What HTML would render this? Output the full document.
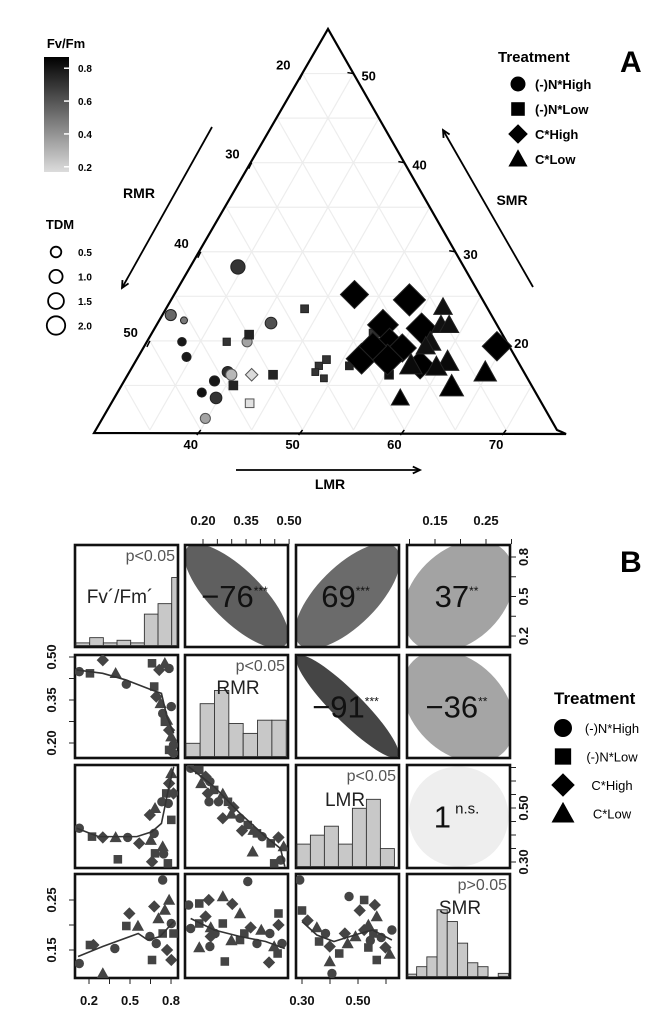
<!DOCTYPE html>
<html><head><meta charset="utf-8">
<style>
html,body{margin:0;padding:0;background:#fff;}
svg{display:block;font-family:"Liberation Sans",Arial,sans-serif;}
</style></head>
<body>
<svg id="fig" width="668" height="1011" viewBox="0 0 668 1011" xmlns="http://www.w3.org/2000/svg">
<defs>
<linearGradient id="fvgrad" x1="0" y1="0" x2="0" y2="1">
<stop offset="0" stop-color="#000"/><stop offset="1" stop-color="#dcdcdc"/>
</linearGradient>
</defs>
<g id="panelA"></g>
<g id="panelB"></g>
</svg>
<script>
// ===== Panel A data (ternary) =====
const ternTreat = ["NH","NH","NH","NH","NH","NH","NH","NH","NH","NH","NH","NH","NH",
 "NL","NL","NL","NL","NL","NL","NL","NL","NL","NL","NL","NL","NL",
 "CH","CH","CH","CH","CH","CH","CH","CH","CH","CH","CH","CH",
 "CL","CL","CL","CL","CL","CL","CL","CL","CL","CL","CL"];
const ternLMR = [34.5,30.6,32.2,33.2,34.5,40.9,39.4,38.6,38.0,39.7,39.8,39.6,39.9,
 43.4,39.4,37.6,44.0,40.7,43.3,48.4,48.0,48.0,49.2,51.0,51.6,55.4,
 41.9,47.5,53.2,52.0,56.0,53.7,51.8,55.2,57.9,64.4,54.4,52.2,
 56.9,57.7,58.5,57.6,57.4,60.4,59.6,57.0,64.7,62.2,57.8];
const ternSMR = [28.3,22.9,22.3,19.9,18.2,22.0,16.5,15.5,14.2,13.6,11.3,19.9,16.2,
 23.6,20.7,19.9,16.2,15.0,13.0,17.9,17.2,16.5,15.8,17.2,20.8,16.2,
 16.2,25.2,24.6,21.8,21.4,19.7,18.0,19.2,17.3,19.4,17.9,19.4,
 23.8,21.8,21.8,19.9,19.4,17.7,17.1,17.3,16.5,14.9,13.6];
const ternFv = [0.7,0.55,0.5,0.78,0.78,0.62,0.72,0.78,0.8,0.7,0.38,0.38,0.32,
 0.7,0.75,0.7,0.75,0.75,0.2,0.7,0.7,0.7,0.7,0.75,0.7,0.8,
 0.22,0.85,0.85,0.85,0.85,0.85,0.85,0.85,0.85,0.85,0.85,0.85,
 0.8,0.8,0.8,0.8,0.8,0.82,0.82,0.82,0.85,0.85,0.85];
const ternTDM = [1.4,0.8,0,0.3,0.4,0.9,0.8,0.6,0.4,0.9,0.6,0.6,0.8,
 0.3,0.5,0.2,0.5,0.5,0.5,0.3,0.2,0.1,0.1,0.3,0.6,0.5,
 0.5,2.8,3.4,3.2,3.2,3.2,3.2,2.8,2.8,3.0,3.2,2.7,
 1.5,1.6,1.6,1.9,1.6,2.1,1.9,2.1,2.1,2.3,1.4];
const lmrTicks = [40,50,60,70];
const rmrTicks = [20,30,40,50];
const smrTicks = [20,30,40,50];
const fvLegend = [0.8,0.6,0.4,0.2];
const tdmLegend = [0.5,1.0,1.5,2.0];
const treatLabels = ["(-)N*High","(-)N*Low","C*High","C*Low"];
const treatCodes = ["NH","NL","CH","CL"];

// ===== Panel B data =====
const corrVals = [-76,69,37,-91,-36,1];
const corrSig = ["***","***","**","***","**","n.s."];
const corrCells = [[0,1],[0,2],[0,3],[1,2],[1,3],[2,3]];
const histFvCounts = [1,3,1,2,1,12,16,26];
const histRmrCounts = [2,8,10,5,3.5,5.5,5.5];
const histLmrCounts = [5,7,9,5,13,15,4];
const histSmrCounts = [0.6,2.5,5,17,14,8.5,3.5,2.5,0,0.8];
const histPvals = ["p<0.05","p<0.05","p<0.05","p>0.05"];
const varNames = ["Fv\u00b4/Fm\u00b4","RMR","LMR","SMR"];
// scatter: Fv vs RMR
const s21x=[.129,.207,.301,.395,.473,.661,.714,.755,.786,.677,.692,.724,.739,.755,.786,.802,.818,.786,.818,.771,.802];
const s21y=[.449,.443,.489,.443,.405,.478,.455,.478,.460,.397,.362,.338,.303,.274,.245,.222,.193,.176,.164,.280,.327];
const l21x=[.11,.30,.47,.66,.73,.77,.82]; const l21y=[.455,.443,.420,.385,.373,.292,.234];
// Fv vs LMR
const s31x=[.129,.222,.301,.395,.483,.411,.567,.652,.677,.683,.661,.739,.746,.777,.645,.683,.733,.765,.786,.802,.780,.802,.818];
const s31y=[.425,.394,.391,.391,.391,.310,.369,.381,.406,.332,.301,.357,.330,.295,.474,.499,.523,.554,.591,.628,.517,.456,.554];
const l31x=[.11,.27,.55,.66,.73,.78,.82]; const l31y=[.425,.394,.394,.412,.443,.567,.653];
// Fv vs SMR
const s41x=[.129,.207,.232,.301,.389,.473,.495,.558,.645,.661,.677,.708,.739,.739,.771,.786,.802,.818,.802,.755,.692];
const s41y=[.123,.160,.160,.103,.153,.198,.223,.198,.177,.130,.237,.213,.290,.183,.150,.250,.203,.183,.130,.230,.163];
const l41x=[.12,.30,.56,.63,.72,.82]; const l41y=[.137,.157,.183,.170,.177,.207];
// RMR vs LMR
const s32x=[.157,.187,.209,.194,.224,.239,.217,.269,.254,.287,.306,.299,.329,.356,.336,.376,.406,.436,.463,.481,.471,.448,.269,.373,.221,.388];
const s32y=[.647,.641,.616,.591,.598,.567,.554,.552,.523,.523,.502,.478,.462,.437,.416,.418,.394,.369,.391,.357,.307,.295,.462,.338,.523,.406];
const l32x=[.15,.239,.329,.418,.47,.485]; const l32y=[.653,.579,.48,.394,.35,.283];
// RMR vs SMR
const s42x=[.150,.187,.220,.269,.157,.187,.209,.227,.242,.269,.302,.329,.356,.344,.366,.403,.433,.463,.463,.448,.475,.460,.430,.187,.224,.276,.227,.299,.388,.329];
const s42y=[.240,.243,.250,.257,.193,.203,.217,.195,.183,.203,.242,.223,.287,.183,.195,.190,.183,.223,.200,.157,.163,.143,.125,.155,.157,.127,.177,.169,.163,.170];
const l42x=[.157,.239,.329,.418,.485]; const l42y=[.213,.19,.177,.167,.153];
// LMR vs SMR
const s43x=[.292,.300,.320,.353,.384,.361,.399,.399,.407,.433,.453,.463,.468,.522,.522,.537,.544,.555,.560,.567,.583,.567,.598,.613,.621,.537,.506,.491];
const s43y=[.290,.229,.209,.195,.183,.167,.157,.127,.103,.143,.183,.163,.257,.250,.190,.200,.169,.183,.240,.217,.175,.130,.155,.142,.190,.155,.229,.177];
const l43x=[.30,.353,.414,.506,.552,.621]; const l43y=[.207,.18,.167,.183,.19,.17];
const shapeCycle = ["c","s","d","t"];

const NS="http://www.w3.org/2000/svg";
function mk(tag, attrs, parent){const e=document.createElementNS(NS,tag);for(const k in attrs)e.setAttribute(k,attrs[k]);parent.appendChild(e);return e;}
function txt(str, attrs, parent){const e=mk("text",attrs,parent);e.textContent=str;return e;}

// ===== Panel A =====
const A=document.getElementById("panelA");
const cR=[557,430], cT=[328,29], cL=[99,430];
function tern(L,S){const a=(L-30)/45,b=(S-10)/45,c=1-a-b;return [a*cR[0]+b*cT[0]+c*cL[0], a*cR[1]+b*cT[1]+c*cL[1]];}
function bary(a,b,c){return [a*cR[0]+b*cT[0]+c*cL[0], a*cR[1]+b*cT[1]+c*cL[1]];}
const grid=mk("g",{stroke:"#ededed","stroke-width":"1.2"},A);


for(let k=1;k<9;k++){const f=k/9;
 let p=bary(0,f,1-f),q=bary(1-f,f,0);mk("line",{x1:p[0],y1:p[1],x2:q[0],y2:q[1]},grid);
 p=bary(f,0,1-f);q=bary(f,1-f,0);mk("line",{x1:p[0],y1:p[1],x2:q[0],y2:q[1]},grid);
 p=bary(0,1-f,f);q=bary(1-f,0,f);mk("line",{x1:p[0],y1:p[1],x2:q[0],y2:q[1]},grid);}
const tri=mk("path",{d:`M94,433 L${cT[0]},${cT[1]} L${cR[0]},${cR[1]} Q562,432 566,434 L94,433 Z`,fill:"none",stroke:"#000","stroke-width":"2.2"},A);


lmrTicks.forEach(v=>{const p=tern(v,10);
 const t=txt(String(v),{x:p[0]-10,y:p[1]+19,"font-size":"13","font-weight":"bold","text-anchor":"middle"},A);
 
 
 mk("line",{x1:p[0],y1:p[1],x2:p[0]-4,y2:p[1]+5,stroke:"#000","stroke-width":"1.5"},A);});
rmrTicks.forEach(v=>{const c=(v-15)/45;const p=bary(0,1-c,c);
 const t=txt(String(v),{x:p[0]-12,y:p[1]-4,"font-size":"13","font-weight":"bold","text-anchor":"end"},A);
 
 
 mk("line",{x1:p[0],y1:p[1],x2:p[0]-3,y2:p[1]+6,stroke:"#000","stroke-width":"1.5"},A);});
smrTicks.forEach(v=>{const b=(v-10)/45;const p=bary(1-b,b,0);
 const t=txt(String(v),{x:p[0]+8,y:p[1]+7,"font-size":"13","font-weight":"bold"},A);
 
 
 mk("line",{x1:p[0],y1:p[1],x2:p[0]-6,y2:p[1]-1,stroke:"#000","stroke-width":"1.5"},A);});
function arrow(x1,y1,x2,y2,name){const g=mk("g",{},A);
 mk("line",{x1,y1,x2,y2,stroke:"#000","stroke-width":"1.8"},g);
 const ang=Math.atan2(y2-y1,x2-x1),h=8;
 mk("path",{d:`M${x2-h*Math.cos(ang-0.45)},${y2-h*Math.sin(ang-0.45)} L${x2},${y2} L${x2-h*Math.cos(ang+0.45)},${y2-h*Math.sin(ang+0.45)}`,fill:"none",stroke:"#000","stroke-width":"1.8"},g);}
arrow(212,127,122,288,'rmr-arrow');arrow(533,287,443,130,'smr-arrow');arrow(236,470,420,470,'lmr-arrow');
[["RMR",139,198,'rmr-axis-title'],["SMR",512,205,'smr-axis-title'],["LMR",330,489,'lmr-axis-title']].forEach(a=>{
 const t=txt(a[0],{x:a[1],y:a[2],"font-size":"14","font-weight":"bold","text-anchor":"middle"},A);
 
 });
function gray(fv){let v=Math.round(225-(fv-0.2)/0.65*225);v=Math.max(0,Math.min(225,v));return `rgb(${v},${v},${v})`;}
function rad(tdm){return 3.5+2.6*tdm;}
function marker(parent,shape,x,y,r,fill,stroke){
 if(shape==="NH"||shape==="c") return mk("circle",{cx:x,cy:y,r:r,fill,stroke,"stroke-width":"1"},parent);
 if(shape==="NL"||shape==="s") return mk("rect",{x:x-r*0.9,y:y-r*0.9,width:r*1.8,height:r*1.8,fill,stroke,"stroke-width":"1"},parent);
 if(shape==="CH"||shape==="d"){const h=r*1.3;return mk("path",{d:`M${x},${y-h} L${x+h},${y} L${x},${y+h} L${x-h},${y} Z`,fill,stroke,"stroke-width":"1"},parent);}
 const h=r*1.25;return mk("path",{d:`M${x},${y-h} L${x+h},${y+h*0.8} L${x-h},${y+h*0.8} Z`,fill,stroke,"stroke-width":"1"},parent);}
const pts=mk("g",{},A);


ternLMR.forEach((L,i)=>{const p=tern(L,ternSMR[i]);
 const e=marker(pts,ternTreat[i],p[0],p[1],rad(ternTDM[i]),gray(ternFv[i]),ternFv[i]<0.45?"#555":"#222");
 
 });
const cb=mk("g",{},A);
txt("Fv/Fm",{x:66,y:48,"font-size":"13","font-weight":"bold","text-anchor":"middle"},cb);
mk("rect",{x:44,y:57,width:25,height:115,fill:"url(#fvgrad)"},cb);
fvLegend.forEach(v=>{const y=57+(0.85-v)/0.7*115+3;
 mk("line",{x1:64,y1:y,x2:69,y2:y,stroke:"#fff","stroke-width":"1.5"},cb);
 const t=txt(v.toFixed(1),{x:78,y:y+4,"font-size":"10","font-weight":"bold"},cb);
 
 });
const tl=mk("g",{},A);
txt("TDM",{x:60,y:229,"font-size":"13","font-weight":"bold","text-anchor":"middle"},tl);
tdmLegend.forEach((v,i)=>{const y=252+i*24.5;
 mk("circle",{cx:56,cy:y,r:rad(v)+0.5,fill:"none",stroke:"#000","stroke-width":"1.8"},tl);
 const t=txt(v.toFixed(1),{x:78,y:y+4,"font-size":"10","font-weight":"bold"},tl);
 
 });
const la=mk("g",{},A);
txt("Treatment",{x:498,y:62,"font-size":"15","font-weight":"bold"},la);
treatCodes.forEach((c,i)=>{const y=84+i*25;
 const m=marker(la,c,518,y,7,"#000","#000");
 
 
 const t=txt(treatLabels[i],{x:535,y:y+5,"font-size":"13","font-weight":"bold"},la);
 
 });
const lA=txt("A",{x:620,y:72,"font-size":"30","font-weight":"bold"},A);



// ===== Panel B =====
const B=document.getElementById("panelB");
const colX=[[75,178],[185,288],[296,399],[407,510]];
const rowY=[[545,647],[655,758],[765,868],[874,978]];
function fvX(v){return 89+(v-0.2)*136.7;}
function rmrX(v){return 203+(v-0.2)*287;}
function lmrX(v){return 302+(v-0.3)*280;}
function smrX(v){return 435+(v-0.15)*510;}
function fvY(v){return 557+(0.8-v)*131.7;}
function rmrY(v){return 657+(0.5-v)*286.7;}
function lmrY(v){return 808+(0.5-v)*270;}
function smrY(v){return 900+(0.25-v)*500;}
for(let r=0;r<4;r++)for(let c=0;c<4;c++){
 const cp=mk("clipPath",{id:"box"+r+c},B);
 mk("rect",{x:colX[c][0],y:rowY[r][0],width:colX[c][1]-colX[c][0],height:rowY[r][1]-rowY[r][0]},cp);}
corrVals.forEach((v,i)=>{const [r,c]=corrCells[i];const cx=(colX[c][0]+colX[c][1])/2,cy=(rowY[r][0]+rowY[r][1])/2;
 const a=Math.abs(v)/100;const rx=60+12*a,ry=Math.max(15,60*Math.pow(1-a,0.6));
 const g=a<0.05?238:Math.round(228-a*175);
 const wrap=mk("g",{"clip-path":`url(#box${r}${c})`},B);
 
 
 const e=mk("ellipse",{cx,cy,rx:a<0.05?50:rx,ry:a<0.05?50:ry,fill:`rgb(${g},${g},${g})`,transform:`rotate(${v<0?45:-45} ${cx} ${cy})`},wrap);
 
 
 const t=txt("",{x:cx-2,y:cy+11,"font-size":"31","text-anchor":"middle",fill:"#111"},B);
 
 
 t.textContent=(v<0?"\u2212":"")+Math.abs(v);
 const s=document.createElementNS(NS,"tspan");s.setAttribute("font-size",v===1?"15":"12");s.setAttribute("dy",v===1?"-14":"-12");s.textContent=(v===1?" ":"")+corrSig[i];t.appendChild(s);});
for(let r=0;r<4;r++)for(let c=0;c<4;c++){
 const b=mk("rect",{x:colX[c][0],y:rowY[r][0],width:colX[c][1]-colX[c][0],height:rowY[r][1]-rowY[r][0],fill:"none",stroke:"#111","stroke-width":"2.6"},B);
 
 }
function hist(c,r,counts,start,w,xf,ymax,name){
 const g=mk("g",{},B);
 const bot=rowY[r][1]-1.5,H=rowY[r][1]-rowY[r][0];
 counts.forEach((n,k)=>{let x0=xf(start+k*w),x1=xf(start+(k+1)*w);
  x0=Math.max(x0,colX[c][0]+1);x1=Math.min(x1,colX[c][1]-1);if(x1<=x0)return;
  const h=n/ymax*H;
  const b=mk("rect",{x:x0,y:bot-h,width:x1-x0,height:h,fill:"#c8c8c8",stroke:"#333","stroke-width":"0.9"},g);
  
  });}
hist(0,0,histFvCounts,0.105,0.1,fvX,39,'fv-histogram');
hist(1,1,histRmrCounts,0.14,0.05,rmrX,15.6,'rmr-histogram');
hist(2,2,histLmrCounts,0.28,0.05,lmrX,23,'lmr-histogram');
hist(3,3,histSmrCounts,0.094,0.02,smrX,26.5,'smr-histogram');
const nameXY=[[120,603],[238,694],[345,806],[460,914]];
for(let d=0;d<4;d++){
 const p=txt(histPvals[d],{x:colX[d][1]-3,y:rowY[d][0]+16,"font-size":"16","text-anchor":"end",fill:"#555"},B);
 
 
 const n=txt(varNames[d],{x:nameXY[d][0],y:nameXY[d][1],"font-size":"19","text-anchor":"middle",fill:"#222"},B);
 
 }
function scatter(r,c,xs,ys,lx,ly,xf,yf,name){
 const g=mk("g",{},B);
 const inner=mk("g",{"clip-path":`url(#box${r}${c})`},g);
 xs.forEach((v,i)=>{const m=marker(inner,shapeCycle[i%4],xf(v),yf(ys[i]),4.2,"#444","#444");
  
  });
 const d=lx.map((v,i)=>(i?"L":"M")+xf(v)+","+yf(ly[i])).join(" ");
 const l=mk("path",{d,fill:"none",stroke:"#333","stroke-width":"1.6"},inner);
 
 }
scatter(1,0,s21x,s21y,l21x,l21y,fvX,rmrY,'scatter-fv-rmr');
scatter(2,0,s31x,s31y,l31x,l31y,fvX,lmrY,'scatter-fv-lmr');
scatter(3,0,s41x,s41y,l41x,l41y,fvX,smrY,'scatter-fv-smr');
scatter(2,1,s32x,s32y,l32x,l32y,rmrX,lmrY,'scatter-rmr-lmr');
scatter(3,1,s42x,s42y,l42x,l42y,rmrX,smrY,'scatter-rmr-smr');
scatter(3,2,s43x,s43y,l43x,l43y,lmrX,smrY,'scatter-lmr-smr');
const bAx=mk("g",{"font-size":"13","font-weight":"bold",fill:"#111"},B);


function hTicks(vals,labs,xf,y,ty,dir){vals.forEach((v,i)=>{const x=xf(v);
 mk("line",{x1:x,y1:y,x2:x,y2:y+dir*5,stroke:"#222","stroke-width":"1"},bAx);
 if(labs[i]){const t=txt(labs[i],{x,y:ty,"text-anchor":"middle"},bAx);}});}
function vTicks(vals,labs,yf,x,tx,dir){vals.forEach((v,i)=>{const y=yf(v);
 mk("line",{x1:x,y1:y,x2:x+dir*5,y2:y,stroke:"#222","stroke-width":"1"},bAx);
 if(labs[i]){const t=txt(labs[i],{x:tx,y,"text-anchor":"middle",transform:`rotate(-90 ${tx} ${y})`},bAx);}});}
hTicks([0.2,0.25,0.3,0.35,0.4,0.45,0.5],["0.20","","","0.35","","","0.50"],rmrX,544,525,-1);
hTicks([0.1,0.15,0.2,0.25,0.3],["","0.15","","0.25",""],smrX,544,525,-1);
hTicks([0.2,0.35,0.5,0.65,0.8],["0.2","","0.5","","0.8"],fvX,979,1005,1);
hTicks([0.3,0.4,0.5,0.6],["0.30","","0.50",""],lmrX,979,1005,1);
vTicks([0.2,0.35,0.5,0.65,0.8],["0.2","","0.5","","0.8"],fvY,511,528,1);
vTicks([0.3,0.35,0.4,0.45,0.5,0.55,0.6,0.65],["0.30","","","","0.50","","",""],lmrY,511,528,1);
vTicks([0.2,0.275,0.35,0.425,0.5],["0.20","","0.35","","0.50"],rmrY,74,56,-1);
vTicks([0.15,0.2,0.25],["0.15","","0.25"],smrY,74,56,-1);
const lb=mk("g",{},B);
txt("Treatment",{x:554,y:704,"font-size":"17","font-weight":"bold"},lb);
treatCodes.forEach((c,i)=>{const y=728+i*28.5;
 const m=marker(lb,c,563,y,8.5,"#000","#000");
 
 
 const t=txt(treatLabels[i],{x:612,y:y+5,"font-size":"13","text-anchor":"middle"},lb);
 
 });
const lB=txt("B",{x:620,y:572,"font-size":"30","font-weight":"bold"},B);


</script>
</body></html>
